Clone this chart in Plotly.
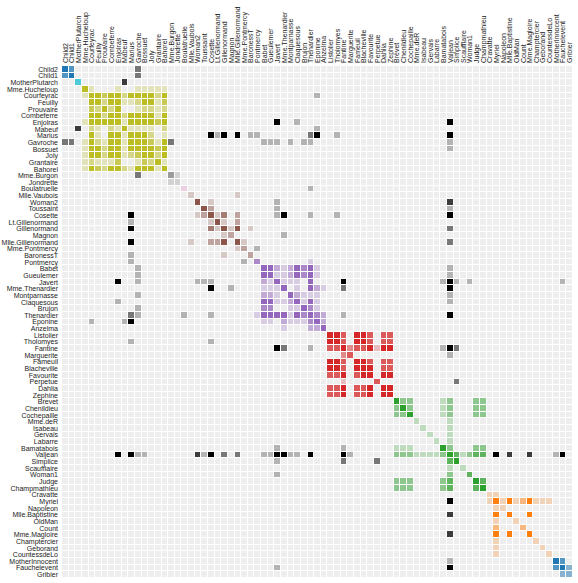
import math
import plotly.graph_objects as go

# Character order (rows/columns) as shown
names = ["Child2", "Child1", "MotherPlutarch", "Mme.Hucheloup", "Courfeyrac", "Feuilly", "Prouvaire",
         "Combeferre", "Enjolras", "Mabeuf", "Marius", "Gavroche", "Bossuet", "Joly", "Grantaire", "Bahorel",
         "Mme.Burgon", "Jondrette", "Boulatruelle", "Mlle.Vaubois", "Woman2", "Toussaint", "Cosette",
         "Lt.Gillenormand", "Gillenormand", "Magnon", "Mlle.Gillenormand", "Mme.Pontmercy", "BaronessT",
         "Pontmercy", "Babet", "Gueulemer", "Javert", "Mme.Thenardier", "Montparnasse", "Claquesous", "Brujon",
         "Thenardier", "Eponine", "Anzelma", "Listolier", "Tholomyes", "Fantine", "Marguerite", "Fameuil",
         "Blacheville", "Favourite", "Perpetue", "Dahlia", "Zephine", "Brevet", "Chenildieu", "Cochepaille",
         "Mme.deR", "Isabeau", "Gervais", "Labarre", "Bamatabois", "Valjean", "Simplice", "Scaufflaire",
         "Woman1", "Judge", "Champmathieu", "Cravatte", "Myriel", "Napoleon", "Mlle.Baptistine", "OldMan",
         "Count", "Mme.Magloire", "Champtercier", "Geborand", "CountessdeLo", "MotherInnocent",
         "Fauchelevent", "Gribier"]

# group of each character, same order
groups = [10, 10, 9, 8, 8, 8, 8, 8, 8, 8, 8, 8, 8, 8, 8, 8,
          7, 7, 6, 5, 5, 5, 5, 5, 5, 5, 5, 5, 5,
          4, 4, 4, 4, 4, 4, 4, 4, 4, 4, 4,
          3, 3, 3, 3, 3, 3, 3, 3, 3, 3,
          2, 2, 2, 2, 2, 2, 2, 2, 2, 2, 2, 2, 2, 2,
          1, 1, 1, 1, 1, 1, 1, 1, 1, 1,
          0, 0, 0]

group_colors = ["#1f77b4", "#ff7f0e", "#2ca02c", "#d62728", "#9467bd",
                "#8c564b", "#e377c2", "#7f7f7f", "#bcbd22", "#17becf", "#1f77b4"]

# co-occurrence links: (source, target, value)
links = [
    ("Napoleon", "Myriel", 1), ("Mlle.Baptistine", "Myriel", 8), ("Mme.Magloire", "Myriel", 10),
    ("Mme.Magloire", "Mlle.Baptistine", 6), ("CountessdeLo", "Myriel", 1), ("Geborand", "Myriel", 1),
    ("Champtercier", "Myriel", 1), ("Cravatte", "Myriel", 1), ("Count", "Myriel", 2), ("OldMan", "Myriel", 1),
    ("Valjean", "Labarre", 1), ("Valjean", "Mme.Magloire", 3), ("Valjean", "Mlle.Baptistine", 3),
    ("Valjean", "Myriel", 5), ("Marguerite", "Valjean", 1), ("Mme.deR", "Valjean", 1), ("Isabeau", "Valjean", 1),
    ("Gervais", "Valjean", 1), ("Listolier", "Tholomyes", 4), ("Fameuil", "Tholomyes", 4),
    ("Fameuil", "Listolier", 4), ("Blacheville", "Tholomyes", 4), ("Blacheville", "Listolier", 4),
    ("Blacheville", "Fameuil", 4), ("Favourite", "Tholomyes", 3), ("Favourite", "Listolier", 3),
    ("Favourite", "Fameuil", 3), ("Favourite", "Blacheville", 4), ("Dahlia", "Tholomyes", 3),
    ("Dahlia", "Listolier", 3), ("Dahlia", "Fameuil", 3), ("Dahlia", "Blacheville", 3), ("Dahlia", "Favourite", 5),
    ("Zephine", "Tholomyes", 3), ("Zephine", "Listolier", 3), ("Zephine", "Fameuil", 3),
    ("Zephine", "Blacheville", 3), ("Zephine", "Favourite", 4), ("Zephine", "Dahlia", 4),
    ("Fantine", "Tholomyes", 3), ("Fantine", "Listolier", 3), ("Fantine", "Fameuil", 3),
    ("Fantine", "Blacheville", 3), ("Fantine", "Favourite", 4), ("Fantine", "Dahlia", 4), ("Fantine", "Zephine", 4),
    ("Fantine", "Marguerite", 2), ("Fantine", "Valjean", 9), ("Mme.Thenardier", "Fantine", 2),
    ("Mme.Thenardier", "Valjean", 7), ("Thenardier", "Mme.Thenardier", 13), ("Thenardier", "Fantine", 1),
    ("Thenardier", "Valjean", 12), ("Cosette", "Mme.Thenardier", 4), ("Cosette", "Valjean", 31),
    ("Cosette", "Tholomyes", 1), ("Cosette", "Thenardier", 1), ("Javert", "Valjean", 17), ("Javert", "Fantine", 5),
    ("Javert", "Thenardier", 5), ("Javert", "Mme.Thenardier", 1), ("Javert", "Cosette", 1),
    ("Fauchelevent", "Valjean", 8), ("Fauchelevent", "Javert", 1), ("Bamatabois", "Fantine", 1),
    ("Bamatabois", "Javert", 1), ("Bamatabois", "Valjean", 2), ("Perpetue", "Fantine", 1),
    ("Simplice", "Perpetue", 2), ("Simplice", "Valjean", 3), ("Simplice", "Fantine", 2), ("Simplice", "Javert", 1),
    ("Scaufflaire", "Valjean", 1), ("Woman1", "Valjean", 2), ("Woman1", "Javert", 1), ("Judge", "Valjean", 3),
    ("Judge", "Bamatabois", 2), ("Champmathieu", "Valjean", 3), ("Champmathieu", "Judge", 3),
    ("Champmathieu", "Bamatabois", 2), ("Brevet", "Judge", 2), ("Brevet", "Champmathieu", 2),
    ("Brevet", "Valjean", 2), ("Brevet", "Bamatabois", 1), ("Chenildieu", "Judge", 2),
    ("Chenildieu", "Champmathieu", 2), ("Chenildieu", "Brevet", 2), ("Chenildieu", "Valjean", 2),
    ("Chenildieu", "Bamatabois", 1), ("Cochepaille", "Judge", 2), ("Cochepaille", "Champmathieu", 2),
    ("Cochepaille", "Brevet", 2), ("Cochepaille", "Chenildieu", 2), ("Cochepaille", "Valjean", 2),
    ("Cochepaille", "Bamatabois", 1), ("Pontmercy", "Thenardier", 1), ("Boulatruelle", "Thenardier", 1),
    ("Eponine", "Mme.Thenardier", 2), ("Eponine", "Thenardier", 3), ("Anzelma", "Eponine", 2),
    ("Anzelma", "Thenardier", 2), ("Anzelma", "Mme.Thenardier", 1), ("Woman2", "Valjean", 3),
    ("Woman2", "Cosette", 1), ("Woman2", "Javert", 1), ("MotherInnocent", "Fauchelevent", 3),
    ("MotherInnocent", "Valjean", 1), ("Gribier", "Fauchelevent", 2), ("Mme.Burgon", "Jondrette", 1),
    ("Gavroche", "Mme.Burgon", 2), ("Gavroche", "Thenardier", 1), ("Gavroche", "Javert", 1),
    ("Gavroche", "Valjean", 1), ("Gillenormand", "Cosette", 3), ("Gillenormand", "Valjean", 2),
    ("Magnon", "Gillenormand", 1), ("Magnon", "Mme.Thenardier", 1), ("Mlle.Gillenormand", "Gillenormand", 9),
    ("Mlle.Gillenormand", "Cosette", 2), ("Mlle.Gillenormand", "Valjean", 2),
    ("Mme.Pontmercy", "Mlle.Gillenormand", 1), ("Mme.Pontmercy", "Pontmercy", 1),
    ("Mlle.Vaubois", "Mlle.Gillenormand", 1), ("Lt.Gillenormand", "Mlle.Gillenormand", 2),
    ("Lt.Gillenormand", "Gillenormand", 1), ("Lt.Gillenormand", "Cosette", 1),
    ("Marius", "Mlle.Gillenormand", 6), ("Marius", "Gillenormand", 12), ("Marius", "Pontmercy", 1),
    ("Marius", "Lt.Gillenormand", 1), ("Marius", "Cosette", 21), ("Marius", "Valjean", 19),
    ("Marius", "Tholomyes", 1), ("Marius", "Thenardier", 2), ("Marius", "Eponine", 5), ("Marius", "Gavroche", 4),
    ("BaronessT", "Gillenormand", 1), ("BaronessT", "Marius", 1), ("Mabeuf", "Marius", 1),
    ("Mabeuf", "Eponine", 1), ("Mabeuf", "Gavroche", 1), ("Enjolras", "Marius", 7), ("Enjolras", "Gavroche", 7),
    ("Enjolras", "Javert", 6), ("Enjolras", "Mabeuf", 1), ("Enjolras", "Valjean", 4),
    ("Combeferre", "Enjolras", 15), ("Combeferre", "Marius", 5), ("Combeferre", "Gavroche", 6),
    ("Combeferre", "Mabeuf", 2), ("Prouvaire", "Gavroche", 1), ("Prouvaire", "Enjolras", 4),
    ("Prouvaire", "Combeferre", 2), ("Feuilly", "Gavroche", 2), ("Feuilly", "Enjolras", 6),
    ("Feuilly", "Prouvaire", 2), ("Feuilly", "Combeferre", 5), ("Feuilly", "Mabeuf", 1), ("Feuilly", "Marius", 1),
    ("Courfeyrac", "Marius", 9), ("Courfeyrac", "Enjolras", 17), ("Courfeyrac", "Combeferre", 13),
    ("Courfeyrac", "Gavroche", 7), ("Courfeyrac", "Mabeuf", 2), ("Courfeyrac", "Eponine", 1),
    ("Courfeyrac", "Feuilly", 6), ("Courfeyrac", "Prouvaire", 3), ("Bahorel", "Combeferre", 5),
    ("Bahorel", "Gavroche", 5), ("Bahorel", "Courfeyrac", 6), ("Bahorel", "Mabeuf", 2), ("Bahorel", "Enjolras", 4),
    ("Bahorel", "Feuilly", 3), ("Bahorel", "Prouvaire", 2), ("Bahorel", "Marius", 1), ("Bossuet", "Marius", 5),
    ("Bossuet", "Courfeyrac", 12), ("Bossuet", "Gavroche", 5), ("Bossuet", "Bahorel", 4),
    ("Bossuet", "Enjolras", 10), ("Bossuet", "Feuilly", 6), ("Bossuet", "Prouvaire", 2),
    ("Bossuet", "Combeferre", 9), ("Bossuet", "Mabeuf", 1), ("Bossuet", "Valjean", 1), ("Joly", "Bahorel", 5),
    ("Joly", "Bossuet", 7), ("Joly", "Gavroche", 3), ("Joly", "Courfeyrac", 5), ("Joly", "Enjolras", 5),
    ("Joly", "Feuilly", 5), ("Joly", "Prouvaire", 2), ("Joly", "Combeferre", 5), ("Joly", "Mabeuf", 1),
    ("Joly", "Marius", 2), ("Grantaire", "Bossuet", 3), ("Grantaire", "Enjolras", 3),
    ("Grantaire", "Combeferre", 1), ("Grantaire", "Courfeyrac", 2), ("Grantaire", "Joly", 2),
    ("Grantaire", "Gavroche", 1), ("Grantaire", "Bahorel", 1), ("Grantaire", "Feuilly", 1),
    ("Grantaire", "Prouvaire", 1), ("MotherPlutarch", "Mabeuf", 3), ("Gueulemer", "Thenardier", 5),
    ("Gueulemer", "Valjean", 1), ("Gueulemer", "Mme.Thenardier", 1), ("Gueulemer", "Javert", 1),
    ("Gueulemer", "Gavroche", 1), ("Gueulemer", "Eponine", 1), ("Babet", "Thenardier", 6),
    ("Babet", "Gueulemer", 6), ("Babet", "Valjean", 1), ("Babet", "Mme.Thenardier", 1), ("Babet", "Javert", 2),
    ("Babet", "Gavroche", 1), ("Babet", "Eponine", 1), ("Claquesous", "Thenardier", 4),
    ("Claquesous", "Babet", 4), ("Claquesous", "Gueulemer", 4), ("Claquesous", "Valjean", 1),
    ("Claquesous", "Mme.Thenardier", 1), ("Claquesous", "Javert", 1), ("Claquesous", "Eponine", 1),
    ("Claquesous", "Enjolras", 1), ("Montparnasse", "Javert", 1), ("Montparnasse", "Babet", 2),
    ("Montparnasse", "Gueulemer", 2), ("Montparnasse", "Claquesous", 2), ("Montparnasse", "Valjean", 1),
    ("Montparnasse", "Gavroche", 1), ("Montparnasse", "Eponine", 1), ("Montparnasse", "Thenardier", 1),
    ("Toussaint", "Cosette", 2), ("Toussaint", "Javert", 1), ("Toussaint", "Valjean", 1),
    ("Child1", "Gavroche", 2), ("Child2", "Gavroche", 2), ("Child2", "Child1", 3), ("Brujon", "Babet", 3),
    ("Brujon", "Gueulemer", 3), ("Brujon", "Thenardier", 3), ("Brujon", "Gavroche", 1),
    ("Brujon", "Eponine", 1), ("Brujon", "Claquesous", 1), ("Brujon", "Montparnasse", 1),
    ("Mme.Hucheloup", "Bossuet", 1), ("Mme.Hucheloup", "Joly", 1), ("Mme.Hucheloup", "Grantaire", 1),
    ("Mme.Hucheloup", "Bahorel", 1), ("Mme.Hucheloup", "Courfeyrac", 1), ("Mme.Hucheloup", "Gavroche", 1),
    ("Mme.Hucheloup", "Enjolras", 1),
]

n = len(names)
idx = {name: i for i, name in enumerate(names)}
M = [[0] * n for _ in range(n)]
for s, t, v in links:
    a, b = idx[s], idx[t]
    M[a][b] += v
    M[b][a] += v
    M[a][a] += v
    M[b][b] += v

fig = go.Figure()

# background cells
fig.add_trace(go.Heatmap(
    x=names, y=names, z=[[0] * n for _ in range(n)],
    colorscale=[[0, "#eeeeee"], [1, "#eeeeee"]], zmin=0, zmax=1,
    showscale=False, xgap=1, ygap=1, hoverinfo="skip"))

# layer keys: group colour index, or "cross" for between-group cells
layers = sorted(set(groups)) + ["cross"]
for key in layers:
    z = []
    for i in range(n):
        row = []
        for j in range(n):
            v = M[i][j]
            same = groups[i] == groups[j]
            if v > 0 and ((key == "cross" and not same) or (key != "cross" and same and groups[i] == key)):
                row.append(min(v, 4) / 4)
            else:
                row.append(None)
        z.append(row)
    color = "#000000" if key == "cross" else group_colors[key]
    fig.add_trace(go.Heatmap(
        x=names, y=names, z=z,
        colorscale=[[0, "#eeeeee"], [1, color]], zmin=0, zmax=1,
        showscale=False, xgap=1, ygap=1, hoverongaps=False))

tickfont = dict(family="Liberation Sans, Arial, sans-serif", size=7, color="#222222")
fig.update_layout(
    width=578, height=583,
    margin=dict(l=62, r=5, t=66, b=5, autoexpand=False),
    paper_bgcolor="white", plot_bgcolor="white",
    xaxis=dict(type="category", categoryorder="array", categoryarray=names,
               tickmode="array", tickvals=names, ticktext=names,
               side="top", tickangle=-90, tickfont=tickfont, automargin=False,
               ticklabelstandoff=2,
               showgrid=False, zeroline=False, ticks="", showline=False),
    yaxis=dict(type="category", categoryorder="array", categoryarray=names,
               tickmode="array", tickvals=names, ticktext=names,
               autorange="reversed", tickfont=tickfont, automargin=False,
               ticklabelstandoff=3,
               showgrid=False, zeroline=False, ticks="", showline=False),
)

fig.write_html("out.html")
